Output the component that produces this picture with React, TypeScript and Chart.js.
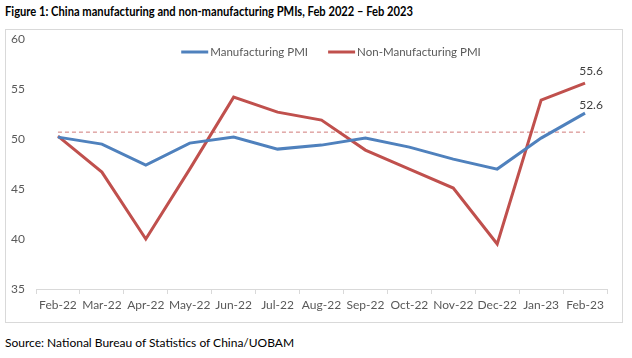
import React, { useEffect, useRef } from "react";
import { Chart, registerables } from "chart.js";
Chart.register(...registerables);

const months = ["Feb-22", "Mar-22", "Apr-22", "May-22", "Jun-22", "Jul-22", "Aug-22", "Sep-22", "Oct-22", "Nov-22", "Dec-22", "Jan-23", "Feb-23"];
const manufacturingPMI = [50.2, 49.5, 47.4, 49.6, 50.2, 49.0, 49.4, 50.1, 49.2, 48.0, 47.0, 50.1, 52.6];
const nonManufacturingPMI = [50.3, 46.7, 40.0, 47.0, 54.2, 52.7, 51.9, 48.9, 47.0, 45.1, 39.5, 53.9, 55.6];
const referenceLine = [50.7, 50.7, 50.7, 50.7, 50.7, 50.7, 50.7, 50.7, 50.7, 50.7, 50.7, 50.7, 50.7];
const yTicks = [35, 40, 45, 50, 55, 60];

const FONT = "Lato, 'Open Sans', sans-serif";
const BLUE = "#4f81bd";
const RED = "#c0504d";
const TITLE = "Figure 1: China manufacturing and non-manufacturing PMIs, Feb 2022 – Feb 2023";

const endLabels = {
  id: "endLabels",
  afterDatasetsDraw(chart: any) {
    const ctx = chart.ctx;
    ctx.save();
    ctx.font = `12px ${FONT}`;
    ctx.fillStyle = "#404040";
    ctx.textAlign = "center";
    ctx.textBaseline = "middle";
    const offsets = [-8, -12];
    [0, 1].forEach((i) => {
      const meta = chart.getDatasetMeta(i);
      const pts = meta.data;
      const last = pts[pts.length - 1];
      const val = chart.data.datasets[i].data[pts.length - 1];
      ctx.fillText(Number(val).toFixed(1), last.x + 6, last.y + offsets[i]);
    });
    ctx.restore();
  },
};

const inlineLegend = {
  id: "inlineLegend",
  afterDraw(chart: any) {
    const ctx = chart.ctx;
    ctx.save();
    ctx.font = `11.5px ${FONT}`;
    ctx.textBaseline = "middle";
    ctx.textAlign = "left";
    const items = chart.data.datasets.filter((d: any) => d.showInLegend);
    const lineW = 27;
    const gap = 2;
    const spacing = 20;
    const widths = items.map((d: any) => lineW + gap + ctx.measureText(d.label).width);
    const total = widths.reduce((a: number, b: number) => a + b, 0) + spacing * (items.length - 1);
    const cx = 326;
    let x = cx - total / 2;
    const y = 23;
    items.forEach((d: any, i: number) => {
      ctx.strokeStyle = d.borderColor;
      ctx.lineWidth = 3;
      ctx.beginPath();
      ctx.moveTo(x, y);
      ctx.lineTo(x + lineW, y);
      ctx.stroke();
      ctx.fillStyle = "#595959";
      ctx.fillText(d.label, x + lineW + gap, y);
      x += widths[i] + spacing;
    });
    ctx.restore();
  },
};

export default function App() {
  const ref = useRef<HTMLCanvasElement>(null);
  const titleRef = useRef<HTMLDivElement>(null);
  useEffect(() => {
    document.body.style.margin = "0";
    const t = titleRef.current;
    if (t) {
      const mc = document.createElement("canvas").getContext("2d") as CanvasRenderingContext2D;
      mc.font = `bold 14px ${FONT}`;
      const w = mc.measureText(TITLE).width;
      t.style.transform = `scaleX(${408 / w})`;
    }
    const chart = new Chart(ref.current as HTMLCanvasElement, {
      type: "line",
      data: {
        labels: months,
        datasets: [
          {
            label: "Manufacturing PMI",
            data: manufacturingPMI,
            borderColor: BLUE,
            backgroundColor: BLUE,
            borderWidth: 3,
            pointRadius: 0,
            tension: 0,
            showInLegend: true,
          } as any,
          {
            label: "Non-Manufacturing PMI",
            data: nonManufacturingPMI,
            borderColor: RED,
            backgroundColor: RED,
            borderWidth: 3,
            pointRadius: 0,
            tension: 0,
            showInLegend: true,
          } as any,
          {
            label: "Reference",
            data: referenceLine,
            borderColor: "#d07a78",
            borderWidth: 1,
            borderDash: [4, 3],
            pointRadius: 0,
            showInLegend: false,
          } as any,
        ],
      },
      options: {
        animation: false,
        responsive: false,
        maintainAspectRatio: false,
        layout: { padding: { top: -1, right: 15, left: 0, bottom: 0 } },
        plugins: { legend: { display: false }, tooltip: { enabled: false }, title: { display: false } },
        scales: {
          x: {
            type: "category",
            offset: true,
            grid: { display: true, drawOnChartArea: false, offset: true, tickLength: 5, color: "#d9d9d9" },
            border: { display: true, color: "#d9d9d9" },
            ticks: { color: "#595959", font: { size: 12, family: FONT }, padding: 4, maxRotation: 0, autoSkip: false },
            afterFit: (s: any) => { s.height = 33; },
          },
          y: {
            min: 35,
            max: 60,
            grid: { display: false },
            border: { display: false },
            afterBuildTicks: (s: any) => { s.ticks = yTicks.map((v) => ({ value: v })); },
            ticks: { color: "#595959", font: { size: 12, family: FONT }, padding: 3 },
            afterFit: (s: any) => { s.width = 31; },
          },
        },
      },
      plugins: [endLabels, inlineLegend],
    });
    return () => chart.destroy();
  }, []);

  return (
    <div style={{ position: "relative", width: 632, height: 358, background: "#fff", fontFamily: FONT }}>
      <div ref={titleRef} style={{ position: "absolute", left: 5, top: 2, fontSize: 14, fontWeight: 700, color: "#000", whiteSpace: "nowrap", lineHeight: "18px", transformOrigin: "0 0" }}>
        {TITLE}
      </div>
      <div style={{ position: "absolute", left: 5, top: 29, width: 616, height: 292, border: "1px solid #d9d9d9" }} />
      <canvas ref={ref} width={617} height={293} style={{ position: "absolute", left: 5, top: 29, width: 617, height: 293 }} />
      <div style={{ position: "absolute", left: 5, top: 335, fontSize: 12, fontWeight: 400, color: "#000", whiteSpace: "nowrap", lineHeight: "16px" }}>
        Source: National Bureau of Statistics of China/UOBAM
      </div>
    </div>
  );
}
